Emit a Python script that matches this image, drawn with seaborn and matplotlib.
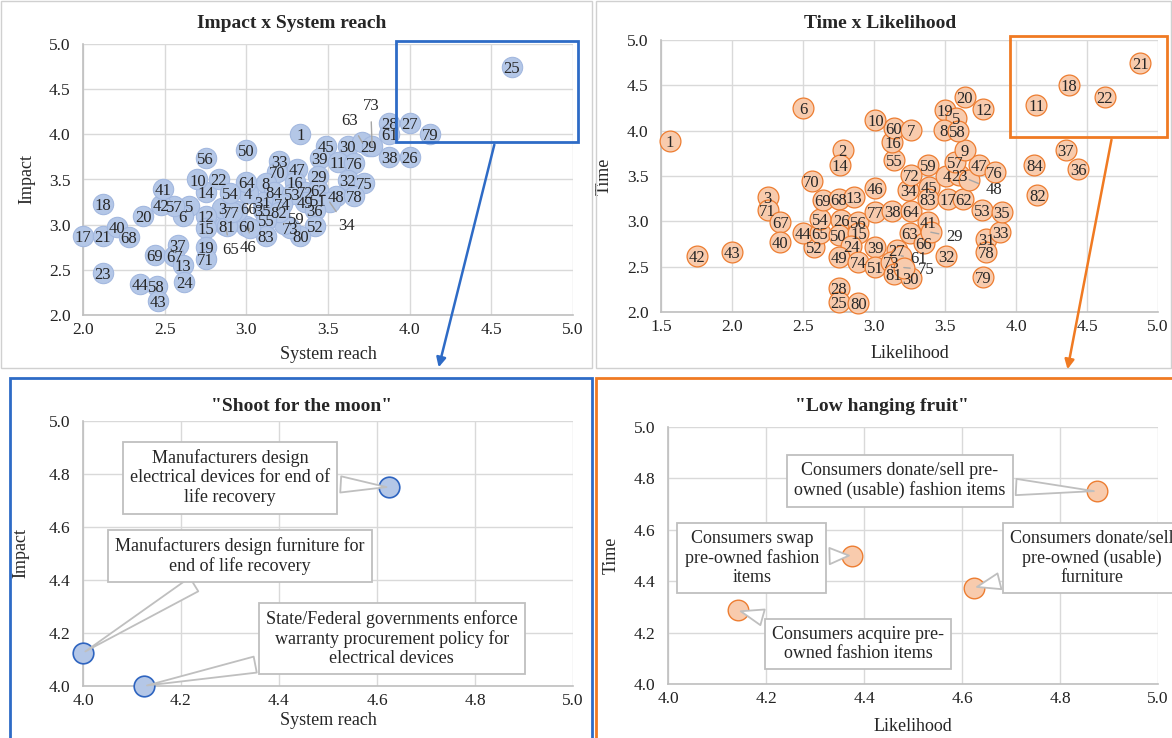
import numpy as np
import pandas as pd
import matplotlib
matplotlib.use("Agg")
import matplotlib.pyplot as plt
import seaborn as sns
from matplotlib.patches import Rectangle, FancyArrowPatch

# ---- Impact x System reach (top left) ----
reach_labels = ["25", "1", "50", "56", "45", "30", "29", "28", "27", "61", "79", "38", "26",
                "63", "73", "39", "11", "76", "33", "70", "47", "16", "29", "32", "75", "48",
                "78", "72", "62", "49", "51", "34", "36", "52", "80", "73", "59", "8", "84",
                "53", "31", "74", "35", "82", "55", "83", "60", "4", "64", "66", "46", "65",
                "81", "3", "77", "12", "15", "14", "10", "22", "54", "5", "6", "57", "42",
                "41", "20", "18", "17", "21", "40", "68", "23", "37", "69", "67", "13", "19",
                "71", "24", "44", "58", "43"]
system_reach = [4.625, 3.33, 3.0, 2.75, 3.49, 3.62, 3.75, 3.875, 4.0, 3.875, 4.125, 3.875, 4.0,
                3.71, 3.77, 3.45, 3.56, 3.66, 3.2, 3.19, 3.31, 3.30, 3.44, 3.62, 3.72, 3.55,
                3.66, 3.36, 3.44, 3.36, 3.44, 3.51, 3.42, 3.42, 3.33, 3.27, 3.23, 3.12, 3.17,
                3.28, 3.10, 3.22, 3.10, 3.20, 3.12, 3.12, 3.0, 3.01, 3.0, 2.94, 3.02, 2.87,
                2.88, 2.85, 2.91, 2.75, 2.75, 2.75, 2.70, 2.83, 2.90, 2.65, 2.61, 2.56, 2.48,
                2.49, 2.37, 2.12, 2.0, 2.12, 2.21, 2.28, 2.12, 2.58, 2.44, 2.56, 2.61, 2.75,
                2.75, 2.62, 2.35, 2.45, 2.46]
impact = [4.75, 4.0, 3.83, 3.74, 3.87, 3.87, 3.875, 4.125, 4.125, 4.0, 4.0, 3.75, 3.75,
          3.91, 3.87, 3.74, 3.69, 3.68, 3.71, 3.58, 3.62, 3.47, 3.54, 3.49, 3.46, 3.32,
          3.32, 3.36, 3.38, 3.25, 3.27, 3.25, 3.16, 2.99, 2.88, 2.96, 3.01, 3.46, 3.36,
          3.34, 3.25, 3.23, 3.16, 3.14, 3.05, 2.88, 2.99, 3.35, 3.47, 3.15, 2.96, 3.0,
          2.99, 3.19, 3.14, 3.10, 2.96, 3.36, 3.50, 3.51, 3.35, 3.21, 3.10, 3.21, 3.22,
          3.40, 3.10, 3.23, 2.87, 2.87, 2.97, 2.86, 2.47, 2.77, 2.66, 2.65, 2.55, 2.75,
          2.62, 2.36, 2.34, 2.32, 2.15]

# ---- Time x Likelihood (top right) ----
time_labels = ["1", "6", "2", "14", "70", "3", "71", "67", "40", "42", "43", "52", "44", "65",
               "54", "69", "68", "13", "46", "26", "56", "50", "15", "24", "49", "74", "39",
               "51", "27", "73", "81", "30", "61", "75", "77", "38", "64", "34", "45", "83",
               "17", "62", "41", "63", "66", "29", "32", "31", "78", "33", "79", "53", "35",
               "28", "25", "80", "4", "23", "48", "47", "76", "57", "9", "59", "72", "55",
               "16", "60", "7", "10", "19", "20", "12", "5", "8", "58", "11", "18", "22",
               "21", "37", "36", "84", "82"]
likelihood = [1.56, 2.5, 2.78, 2.76, 2.56, 2.25, 2.25, 2.34, 2.34, 1.75, 2.0, 2.58, 2.5, 2.62,
              2.62, 2.64, 2.75, 2.86, 3.01, 2.77, 2.89, 2.75, 2.89, 2.84, 2.75, 2.89, 3.01,
              3.01, 3.16, 3.12, 3.14, 3.26, 3.19, 3.21, 3.01, 3.13, 3.26, 3.24, 3.39, 3.38,
              3.52, 3.63, 3.38, 3.25, 3.35, 3.40, 3.51, 3.79, 3.79, 3.89, 3.77, 3.76, 3.90,
              2.75, 2.75, 2.89, 3.51, 3.60, 3.67, 3.74, 3.85, 3.57, 3.64, 3.38, 3.26, 3.14,
              3.13, 3.14, 3.26, 3.01, 3.50, 3.64, 3.77, 3.58, 3.49, 3.59, 4.143, 4.375, 4.625,
              4.875, 4.35, 4.44, 4.13, 4.15]
time_score = [3.89, 4.25, 3.79, 3.62, 3.44, 3.27, 3.12, 2.99, 2.77, 2.62, 2.66, 2.72, 2.87, 2.87,
              3.03, 3.24, 3.25, 3.27, 3.37, 3.01, 2.99, 2.85, 2.87, 2.73, 2.61, 2.55, 2.72,
              2.50, 2.68, 2.55, 2.42, 2.37, 2.62, 2.49, 3.10, 3.11, 3.11, 3.35, 3.38, 3.25,
              3.25, 3.25, 2.99, 2.87, 2.76, 2.88, 2.62, 2.80, 2.66, 2.88, 2.39, 3.12, 3.10,
              2.26, 2.11, 2.10, 3.50, 3.51, 3.46, 3.62, 3.54, 3.65, 3.79, 3.62, 3.51, 3.68,
              3.87, 4.03, 4.01, 4.12, 4.23, 4.37, 4.24, 4.14, 4.01, 4.0, 4.286, 4.5, 4.375,
              4.75, 3.79, 3.58, 3.62, 3.29]

# ---- descriptions for the zoomed panels ----
moon_text = {
    "25": "Manufacturers design\nelectrical devices for end of\nlife recovery",
    "27": "Manufacturers design furniture for\nend of life recovery",
    "79": "State/Federal governments enforce\nwarranty procurement policy for\nelectrical devices",
}
fruit_text = {
    "21": "Consumers donate/sell pre-\nowned (usable) fashion items",
    "18": "Consumers swap\npre-owned fashion\nitems",
    "22": "Consumers donate/sell\npre-owned (usable)\nfurniture",
    "11": "Consumers acquire pre-\nowned fashion items",
}

# layout only: callout box centres (data coords) and moved labels (offset points)
moon_box = {"25": (4.30, 4.785), "27": (4.32, 4.49), "79": (4.63, 4.18)}
fruit_box = {"21": (4.473, 4.79), "18": (4.171, 4.49), "22": (4.865, 4.49), "11": (4.388, 4.156)}
reach_moved = {("63", 3.71): (-9, 17), ("73", 3.77): (-1, 30), ("34", 3.51): (12, -16),
               ("65", 2.87): (4, -17), ("46", 3.02): (-1, -13), ("66", 2.94): (9, 2),
               ("59", 3.23): (9, 4)}
time_moved = {("61", 3.19): (13, -1), ("75", 3.21): (16, 0), ("29", 3.40): (17, -2),
              ("48", 3.67): (18, -6)}

reach = pd.DataFrame({"label": reach_labels, "x": system_reach, "y": impact})
tl = pd.DataFrame({"label": time_labels, "x": likelihood, "y": time_score})
moon = reach[(reach.x >= 4) & (reach.y >= 4)]
fruit = tl[(tl.x >= 4) & (tl.y >= 4)]

sns.set_theme(style="whitegrid")
plt.rcParams["font.family"] = ["Liberation Serif", "DejaVu Serif"]

BLUE_FILL, BLUE_EDGE = "#B4C7E7", "#2E64C0"
ORANGE_FILL, ORANGE_EDGE = "#F8CBAD", "#ED7D31"
W, H = 1172, 738

fig = plt.figure(figsize=(W / 100, H / 100), dpi=100)


def px_box(l, t, r, b):
    return [l / W, 1 - b / H, (r - l) / W, (b - t) / H]


def style_axes(ax, lim_x, lim_y, step, xlabel, ylabel, xpad, ypad):
    ax.set_xlim(*lim_x)
    ax.set_ylim(*lim_y)
    ax.set_xticks(np.arange(lim_x[0], lim_x[1] + 1e-9, step))
    ax.set_yticks(np.arange(lim_y[0], lim_y[1] + 1e-9, step))
    ax.xaxis.set_major_formatter("{x:.1f}")
    ax.yaxis.set_major_formatter("{x:.1f}")
    ax.grid(True, color="#D9D9D9", lw=1)
    ax.set_facecolor("white")
    for s in ["top", "right"]:
        ax.spines[s].set_visible(False)
    for s in ["left", "bottom"]:
        ax.spines[s].set_color("#BFBFBF")
        ax.spines[s].set_linewidth(1.2)
    ax.tick_params(axis="x", length=0, pad=5, labelsize=12.5, labelcolor="#222222")
    ax.tick_params(axis="y", length=0, pad=9, labelsize=12.5, labelcolor="#222222")
    ax.set_xlabel(xlabel, fontsize=13, labelpad=xpad)
    ax.set_ylabel(ylabel, fontsize=13, labelpad=ypad)


def draw_labels(ax, df, moved):
    for lab, x, y in zip(df["label"], df["x"], df["y"]):
        off = moved.get((lab, x))
        if off is None:
            ax.text(x, y, lab, ha="center", va="center_baseline", fontsize=12, zorder=4)
        else:
            ax.annotate(lab, xy=(x, y), xytext=off, textcoords="offset points",
                        ha="center", va="center_baseline", fontsize=12, zorder=4,
                        annotation_clip=False,
                        arrowprops=dict(arrowstyle="-", color="#A6A6A6", lw=1,
                                        shrinkA=3, shrinkB=0))


def draw_callouts(ax, df, texts, boxes):
    for lab, x, y in zip(df["label"], df["x"], df["y"]):
        bx, by = boxes[lab]
        ax.annotate(texts[lab], xy=(x, y), xytext=(bx, by), textcoords="data",
                    ha="center", va="center", fontsize=13, zorder=5,
                    annotation_clip=False, linespacing=1.15,
                    bbox=dict(boxstyle="square,pad=0.4", fc="white", ec="#BFBFBF", lw=1.3),
                    arrowprops=dict(arrowstyle="wedge,tail_width=0.9,shrink_factor=0.5",
                                    fc="white", ec="#BFBFBF", lw=1.3))


def panel_title(text, x, y):
    fig.text(x / W, 1 - y / H, text, ha="center", va="center", fontsize=14,
             fontweight="bold")


# top left
ax1 = fig.add_axes(px_box(83, 44, 573, 315))
sns.scatterplot(data=reach, x="x", y="y", s=215, color=BLUE_FILL, edgecolor="#A3B8DF",
                linewidth=0.8, ax=ax1, clip_on=False, zorder=3, legend=False)
draw_labels(ax1, reach, reach_moved)
style_axes(ax1, (2, 5), (2, 5), 0.5, "System reach", "Impact", 6, 10)
panel_title("Impact x System reach", 292, 24)

# top right
ax2 = fig.add_axes(px_box(661, 40, 1158, 312))
ax2.set_xlim(1.5, 5)
sns.scatterplot(data=tl, x="x", y="y", s=225, color=ORANGE_FILL, edgecolor=ORANGE_EDGE,
                linewidth=0.9, ax=ax2, clip_on=False, zorder=3, legend=False)
draw_labels(ax2, tl, time_moved)
style_axes(ax2, (1.5, 5), (2, 5), 0.5, "Likelihood", "Time", 7, 10)
panel_title("Time x Likelihood", 880, 24)

# bottom left
ax3 = fig.add_axes(px_box(83, 421, 573, 686))
sns.scatterplot(data=moon, x="x", y="y", s=220, color=BLUE_FILL, edgecolor=BLUE_EDGE,
                linewidth=1.2, ax=ax3, clip_on=False, zorder=4, legend=False)
style_axes(ax3, (4, 5), (4, 5), 0.2, "System reach", "Impact", 2, 14)
draw_callouts(ax3, moon, moon_text, moon_box)
panel_title('"Shoot for the moon"', 302, 407)

# bottom right
ax4 = fig.add_axes(px_box(668, 427, 1158, 684))
sns.scatterplot(data=fruit, x="x", y="y", s=220, color=ORANGE_FILL, edgecolor=ORANGE_EDGE,
                linewidth=1.0, ax=ax4, clip_on=False, zorder=4, legend=False)
style_axes(ax4, (4, 5), (4, 5), 0.2, "Likelihood", "Time", 8, 10)
draw_callouts(ax4, fruit, fruit_text, fruit_box)
panel_title('"Low hanging fruit"', 882, 407)


def fig_rect(l, t, r, b, color, lw):
    fig.add_artist(Rectangle((l / W, 1 - b / H), (r - l) / W, (b - t) / H,
                             transform=fig.transFigure, fill=False, ec=color, lw=lw,
                             zorder=10, clip_on=False))


def fig_arrow(x0, y0, x1, y1, color):
    fig.add_artist(FancyArrowPatch((x0 / W, 1 - y0 / H), (x1 / W, 1 - y1 / H),
                                   transform=fig.transFigure, arrowstyle="-|>",
                                   mutation_scale=14, color=color, lw=1.8, zorder=10))


# panel frames
fig_rect(1, 1, 592, 368, "#D0D0D0", 1)
fig_rect(596, 1, 1171, 368, "#D0D0D0", 1)
fig_rect(10, 378, 592, 760, "#2E6BC6", 2)
fig_rect(596, 378, 1190, 760, "#F07A22", 2)

# highlighted regions and zoom arrows
fig_rect(396, 41, 578, 142, "#2E6BC6", 2)
fig_arrow(495, 142, 438, 370, "#2E6BC6")
fig_rect(1010, 36, 1167, 137, "#F07A22", 2)
fig_arrow(1112, 137, 1067, 372, "#F07A22")

fig.savefig("out.png", dpi=100)
